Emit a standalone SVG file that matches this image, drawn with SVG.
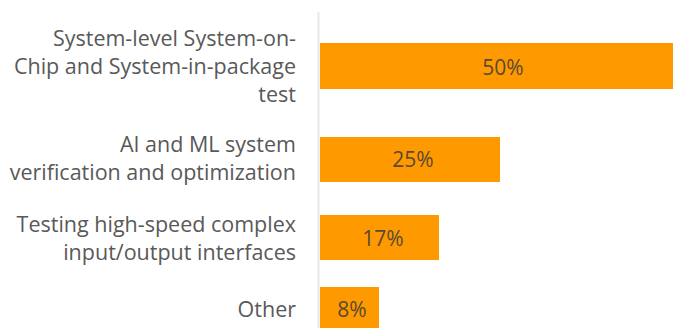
<svg xmlns="http://www.w3.org/2000/svg" width="673" height="328" viewBox="0 0 673 328">
<style>
.lbl{font-family:"Open Sans","Noto Sans","Liberation Sans",sans-serif;font-size:21.5px;fill:#595959;text-anchor:end}
.val{font-family:"Open Sans","Noto Sans","Liberation Sans",sans-serif;font-size:21px;fill:#5a4a32;text-anchor:middle}
.bar{fill:#ff9900}
</style>
<rect width="673" height="328" fill="#ffffff"/>
<line x1="318.5" y1="12" x2="318.5" y2="328" stroke="#e8e8e8" stroke-width="2"/>
<g id="row1">
<text class="lbl" x="296" y="46">System-level System-on-</text>
<text class="lbl" x="296" y="74">Chip and System-in-package</text>
<text class="lbl" x="296" y="102">test</text>
<rect class="bar" x="320" y="43" width="353" height="46"/>
<text class="val" x="503" y="75">50%</text>
</g>
<g id="row2">
<text class="lbl" x="296" y="152">AI and ML system</text>
<text class="lbl" x="296" y="180">verification and optimization</text>
<rect class="bar" x="320" y="137" width="180" height="45"/>
<text class="val" x="413" y="167">25%</text>
</g>
<g id="row3">
<text class="lbl" x="296" y="232">Testing high-speed complex</text>
<text class="lbl" x="296" y="260">input/output interfaces</text>
<rect class="bar" x="320" y="215" width="119" height="45"/>
<text class="val" x="383" y="246">17%</text>
</g>
<g id="row4">
<text class="lbl" x="296" y="317">Other</text>
<rect class="bar" x="320" y="287" width="59" height="41"/>
<text class="val" x="352" y="317">8%</text>
</g>
</svg>
